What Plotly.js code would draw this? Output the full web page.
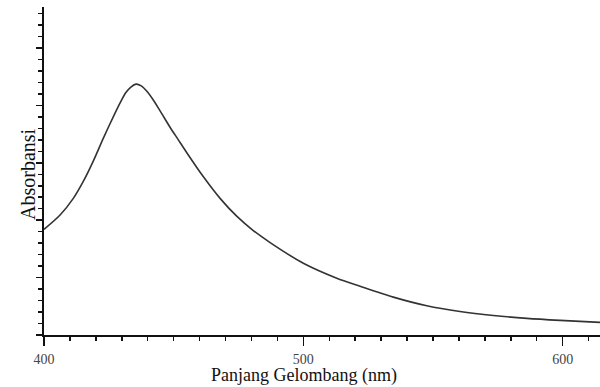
<!DOCTYPE html>
<html>
<head>
<meta charset="utf-8">
<script src="https://cdn.plot.ly/plotly-3.0.1.min.js"></script>
<style>html,body{margin:0;padding:0;background:#fff;}#chart{width:600px;height:387px;}</style>
</head>
<body>
<div id="chart"></div>
<script>
// Wavelength (nm) and absorbance
const wavelength = [400, 406.2, 411.3, 415.2, 419.0, 422.9, 426.8, 429.3, 431.5, 433.5, 435.5, 437.5, 439.6, 442.2, 444.7, 448.6, 451.8, 455.0, 461.4, 467.9, 474.3, 480.7, 487.2, 500.0, 512.9, 521.9, 534.7, 547.6, 560.4, 573.3, 586.2, 599.0, 614.4];
const absorbance = [0.184, 0.209, 0.238, 0.268, 0.303, 0.343, 0.381, 0.404, 0.422, 0.432, 0.437, 0.434, 0.425, 0.409, 0.391, 0.362, 0.340, 0.318, 0.276, 0.238, 0.207, 0.182, 0.161, 0.125, 0.099, 0.085, 0.066, 0.051, 0.041, 0.034, 0.029, 0.0255, 0.022];
const xTickVals = [400, 500, 600];
const xTickText = ["400", "500", "600"];
const xTitle = "Panjang Gelombang (nm)";
const yTitle = "Absorbansi";

const serif = "Liberation Serif, Times New Roman, serif";

const trace = {
  x: wavelength,
  y: absorbance,
  type: "scatter",
  mode: "lines",
  line: {color: "#333333", width: 1.6, shape: "spline", smoothing: 0.8},
  hoverinfo: "skip"
};

const layout = {
  width: 600,
  height: 387,
  margin: {l: 44, r: 0, t: 7, b: 52},
  paper_bgcolor: "#ffffff",
  plot_bgcolor: "#ffffff",
  showlegend: false,
  xaxis: {
    range: [400, 614.4],
    showgrid: false,
    zeroline: false,
    showline: true,
    linecolor: "#111111",
    linewidth: 2,
    ticks: "outside",
    ticklen: 9,
    tickwidth: 1.5,
    tickcolor: "#111111",
    tickmode: "array",
    tickvals: xTickVals,
    ticktext: xTickText,
    ticklabelstandoff: 1,
    tickfont: {family: serif, size: 14, color: "#444444"},
    minor: {dtick: 10, tick0: 400, ticklen: 4, tickwidth: 1.5, tickcolor: "#111111", showgrid: false},
    fixedrange: true
  },
  yaxis: {
    range: [0, 0.5714],
    showgrid: false,
    zeroline: false,
    showline: true,
    linecolor: "#111111",
    linewidth: 2,
    ticks: "outside",
    ticklen: 6,
    tickwidth: 1.5,
    tickcolor: "#111111",
    dtick: 0.1,
    tick0: 0,
    showticklabels: false,
    minor: {dtick: 0.02, tick0: 0, ticklen: 4, tickwidth: 1.5, tickcolor: "#111111", showgrid: false},
    fixedrange: true
  },
  annotations: [
    {
      text: xTitle, xref: "paper", yref: "paper",
      x: 0.4685, y: -0.122, xanchor: "center", yanchor: "middle",
      showarrow: false, font: {family: serif, size: 18, color: "#111111"}
    },
    {
      text: yTitle, xref: "paper", yref: "paper",
      x: -0.0288, y: 0.491, xanchor: "center", yanchor: "middle",
      textangle: -90,
      showarrow: false, font: {family: serif, size: 20, color: "#111111"}
    }
  ]
};

Plotly.newPlot("chart", [trace], layout, {displayModeBar: false, staticPlot: true});
</script>
</body>
</html>
